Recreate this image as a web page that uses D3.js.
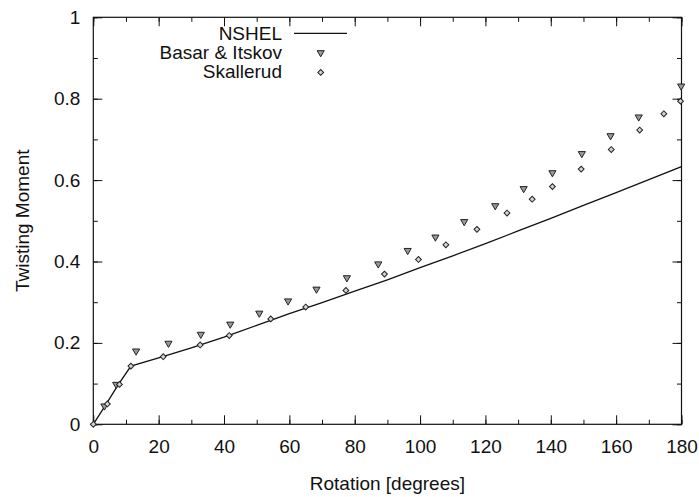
<!DOCTYPE html>
<html>
<head>
<meta charset="utf-8">
<script src="https://cdn.jsdelivr.net/npm/d3@7"></script>
<style>
  body { margin: 0; background: #fff; }
  text { font-family: "Liberation Sans", Arial, Helvetica, sans-serif; fill: #111; }
</style>
</head>
<body>
<div id="chart"></div>
<script>
// NSHEL curve
var nshelX = [0, 3.4, 7.6, 11.5, 20, 30, 40, 50, 60, 70, 80, 90, 100, 110, 120, 130, 140, 150, 160, 170, 180]
var nshelY = [0, 0.043, 0.097, 0.143, 0.163, 0.188, 0.214, 0.243, 0.272, 0.299, 0.327, 0.355, 0.385, 0.414, 0.444, 0.475, 0.506, 0.538, 0.569, 0.601, 0.633]

// Basar & Itskov points
var basarX = [3.4, 7.0, 13.1, 23.0, 32.9, 41.9, 50.8, 59.6, 68.3, 77.6, 87.2, 96.2, 104.7, 113.5, 123.0, 131.7, 140.5, 149.5, 158.3, 166.9, 179.9]
var basarY = [0.045, 0.098, 0.180, 0.199, 0.221, 0.246, 0.273, 0.303, 0.332, 0.360, 0.394, 0.427, 0.460, 0.498, 0.537, 0.579, 0.618, 0.665, 0.709, 0.755, 0.831]

// Skallerud points
var skalX = [0, 4.3, 8.0, 11.5, 21.4, 32.7, 41.6, 54.3, 65.0, 77.3, 89.1, 99.5, 107.9, 117.4, 126.6, 134.3, 140.5, 149.3, 158.5, 167.2, 174.6, 179.7]
var skalY = [0, 0.050, 0.098, 0.143, 0.166, 0.195, 0.218, 0.259, 0.288, 0.329, 0.369, 0.405, 0.441, 0.479, 0.519, 0.553, 0.584, 0.627, 0.675, 0.723, 0.763, 0.794]

var xTicks = [0, 20, 40, 60, 80, 100, 120, 140, 160, 180]
var yTicks = [0, 0.2, 0.4, 0.6, 0.8, 1]
var legendNames = ["NSHEL", "Basar & Itskov", "Skallerud"]

var W = 699, H = 497
var margin = { top: 17.3, right: 17.5, bottom: 72.7, left: 93.3 }
var width = W - margin.left - margin.right,
    height = H - margin.top - margin.bottom

var svg = d3.select("#chart")
    .append("svg")
    .attr("width", W)
    .attr("height", H)
    .append("g")
    .attr("transform", "translate(" + margin.left + "," + margin.top + ")")

var x = d3.scaleLinear().domain([0, 180]).range([0, width])
var y = d3.scaleLinear().domain([0, 1]).range([height, 0])

var minorX = d3.range(0, 181, 10)
var minorY = d3.range(0, 1.001, 0.1)

// ----- axes: ticks pointing inward on all four sides -----
function styleAxis(g) {
    g.select(".domain").remove()
    g.selectAll(".tick line").attr("stroke", "#111").attr("stroke-width", 1)
    g.selectAll(".tick text").attr("font-size", "19px").attr("fill", "#111")
}

// minor ticks
svg.append("g").attr("transform", "translate(0," + height + ")")
    .call(d3.axisBottom(x).tickValues(minorX).tickSize(-4.5).tickFormat(""))
    .call(styleAxis)
svg.append("g")
    .call(d3.axisTop(x).tickValues(minorX).tickSize(-4.5).tickFormat(""))
    .call(styleAxis)
svg.append("g")
    .call(d3.axisLeft(y).tickValues(minorY).tickSize(-4.5).tickFormat(""))
    .call(styleAxis)
svg.append("g").attr("transform", "translate(" + width + ",0)")
    .call(d3.axisRight(y).tickValues(minorY).tickSize(-4.5).tickFormat(""))
    .call(styleAxis)

// major ticks with labels
svg.append("g").attr("transform", "translate(0," + height + ")")
    .call(d3.axisBottom(x).tickValues(xTicks).tickSizeInner(-9).tickPadding(15).tickFormat(d3.format("d")))
    .call(styleAxis)
svg.append("g")
    .call(d3.axisTop(x).tickValues(xTicks).tickSizeInner(-9).tickFormat(""))
    .call(styleAxis)
svg.append("g")
    .call(d3.axisLeft(y).tickValues(yTicks).tickSizeInner(-9).tickPadding(13).tickFormat(function(d) { return d === 0 || d === 1 ? d3.format("d")(d) : d3.format(".1f")(d) }))
    .call(styleAxis)
svg.append("g").attr("transform", "translate(" + width + ",0)")
    .call(d3.axisRight(y).tickValues(yTicks).tickSizeInner(-9).tickFormat(""))
    .call(styleAxis)

// frame
svg.append("rect")
    .attr("width", width)
    .attr("height", height)
    .attr("fill", "none")
    .attr("stroke", "#111")
    .attr("stroke-width", 1.2)

// ----- NSHEL line -----
var line = d3.line()
    .x(function(d) { return x(d[0]) })
    .y(function(d) { return y(d[1]) })

svg.append("path")
    .datum(d3.zip(nshelX, nshelY))
    .attr("d", line)
    .attr("fill", "none")
    .attr("stroke", "#111")
    .attr("stroke-width", 1.3)

// ----- markers -----
var triangle = d3.symbol().type(d3.symbolTriangle).size(22)
var diamond = d3.symbol().type(d3.symbolSquare).size(17)

function drawTri(g, px, py) {
    g.append("path")
        .attr("d", triangle)
        .attr("transform", "translate(" + px + "," + py + ") rotate(180)")
        .attr("fill", "#999")
        .attr("stroke", "#222")
        .attr("stroke-width", 1)
}
function drawDia(g, px, py) {
    g.append("path")
        .attr("d", diamond)
        .attr("transform", "translate(" + px + "," + py + ") rotate(45)")
        .attr("fill", "#d4d4d4")
        .attr("stroke", "#222")
        .attr("stroke-width", 1)
}

var pts = svg.append("g")
d3.zip(basarX, basarY).forEach(function(d) { drawTri(pts, x(d[0]), y(d[1])) })
d3.zip(skalX, skalY).forEach(function(d) { drawDia(pts, x(d[0]), y(d[1])) })

// ----- legend -----
var leg = svg.append("g").attr("transform", "translate(" + (282 - margin.left) + "," + (40 - margin.top) + ")")
legendNames.forEach(function(name, i) {
    leg.append("text")
        .attr("x", 0)
        .attr("y", i * 19.2)
        .attr("text-anchor", "end")
        .attr("font-size", "19px")
        .text(name)
})
leg.append("line")
    .attr("x1", 12).attr("x2", 65)
    .attr("y1", -6.7).attr("y2", -6.7)
    .attr("stroke", "#111")
    .attr("stroke-width", 1.3)
drawTri(leg, 38.7, 19.2 - 6.5)
drawDia(leg, 38.7, 38.4 - 6)

// ----- axis titles -----
svg.append("text")
    .attr("x", width / 2)
    .attr("y", 490 - margin.top)
    .attr("text-anchor", "middle")
    .attr("font-size", "19px")
    .text("Rotation [degrees]")

svg.append("text")
    .attr("transform", "translate(" + (29 - margin.left) + "," + (height / 2) + ") rotate(-90)")
    .attr("text-anchor", "middle")
    .attr("font-size", "19px")
    .text("Twisting Moment")
</script>
</body>
</html>
